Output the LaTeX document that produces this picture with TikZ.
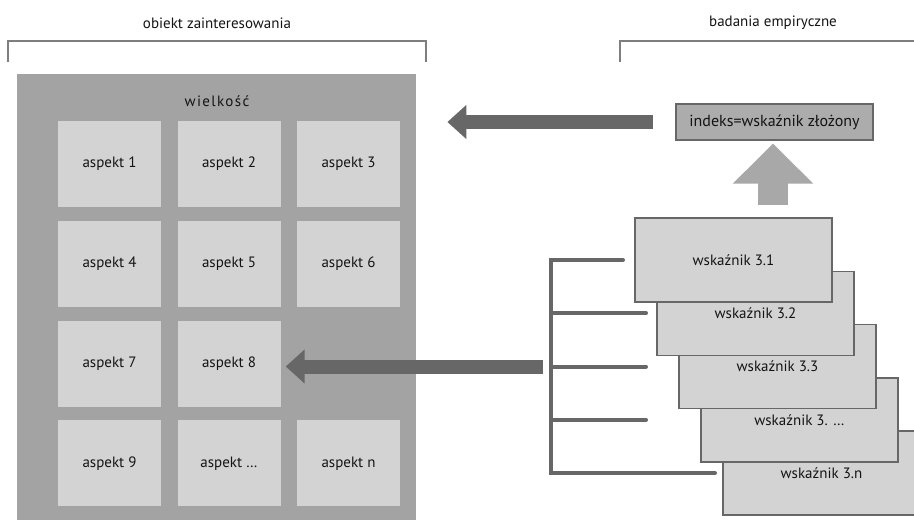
\documentclass[tikz,border=0pt]{standalone}
\usepackage{fontspec}
\setmainfont{PT Sans}
\newfontfamily\rozstrzelony[LetterSpace=9]{PT Sans}
\usetikzlibrary{positioning, arrows.meta, calc}
\definecolor{szaryciemny}{RGB}{103,103,103}
\definecolor{szarysredni}{RGB}{163,163,163}
\definecolor{szaryjasny}{RGB}{211,211,211}
\definecolor{szaryindeks}{RGB}{172,172,172}
\definecolor{tekst}{RGB}{20,20,20}

\begin{document}
\begin{tikzpicture}[x=1pt, y=-1pt, font=\fontsize{15}{17}\selectfont, text=tekst,
    aspekt/.style={fill=szaryjasny, minimum width=103pt, minimum height=86pt, inner sep=0pt},
    wskaznik/.style={fill=szaryjasny, draw=szaryciemny, line width=1.5pt, minimum width=197pt, minimum height=84pt, inner sep=0pt},
    klamra/.style={draw=szaryciemny!85, line width=1.5pt},
    grzebien/.style={draw=szaryciemny, line width=4pt, line cap=round},
    blokowa/.style={draw=szaryciemny, line width=14pt, -{Triangle[width=33pt, length=19pt]}}]
    \useasboundingbox (0,0) rectangle (914,520);
    % naglowki i klamry
    \node (obiekt) at (217,23) {obiekt zainteresowania};
    \node (badania) at (773,23) {badania empiryczne};
    \draw[klamra] (8,62) |- (426,41) -- (426,62);
    \draw[klamra] (620,62) |- (914,41);
    % wielkosc z aspektami
    \node[fill=szarysredni, minimum width=399pt, minimum height=446pt, inner sep=0pt, anchor=north west] (wielkosc) at (17,74) {};
    \node (tytul) at (217,101) {\rozstrzelony wielkość};
    \foreach \nazwa/\kol/\wiersz/\opis in {a1/0/0/1, a2/1/0/2, a3/2/0/3, a4/0/1/4, a5/1/1/5, a6/2/1/6,
        a7/0/2/7, a8/1/2/8, a9/0/3/9, a10/1/3/…, an/2/3/n}
      \node[aspekt] (\nazwa) at ({109.5+119.5*\kol},{164+99.8*\wiersz}) {aspekt \opis};
    % indeks
    \node[fill=szaryindeks, draw=szaryciemny, line width=1.2pt, minimum width=197pt, minimum height=36pt, inner sep=0pt, font=\fontsize{16}{18}\selectfont] (indeks) at (774.5,122) {indeks=wskaźnik złożony};
    % wskazniki (od dolnego)
    \foreach \i/\opis in {5/3.n, 4/3. …, 3/3.3, 2/3.2, 1/3.1}
      \node[wskaznik] (w\i) at ({733.5+22*(\i-1)},{260+53.25*(\i-1)}) {wskaźnik \opis};
    % grzebien
    \foreach \i/\koniec in {1/623, 2/646, 3/646, 4/646, 5/715} {
      \coordinate (g\i) at (551,{260+53.25*(\i-1)});
      \coordinate (k\i) at (\koniec,{260+53.25*(\i-1)});
    }
    \draw[grzebien] (k1) -- (g1) -- (g5) -- (k5);
    \foreach \i in {2,3,4}
      \draw[grzebien] (g\i) -- (k\i);
    % strzalki
    \coordinate (podstawa) at (773,205);
    \draw[blokowa, draw=szarysredni!95, line width=30pt, -{Triangle[width=78pt, length=40pt]}, shorten >=3pt] (podstawa) -- (podstawa |- indeks.south);
    \draw[blokowa, shorten <=22pt, shorten >=31pt] (indeks.west) -- (indeks.west -| wielkosc.east);
    \draw[blokowa, shorten <=8pt, shorten >=5pt] (g3) -- (g3 -| a8.east);
  \end{tikzpicture}
\end{document}
